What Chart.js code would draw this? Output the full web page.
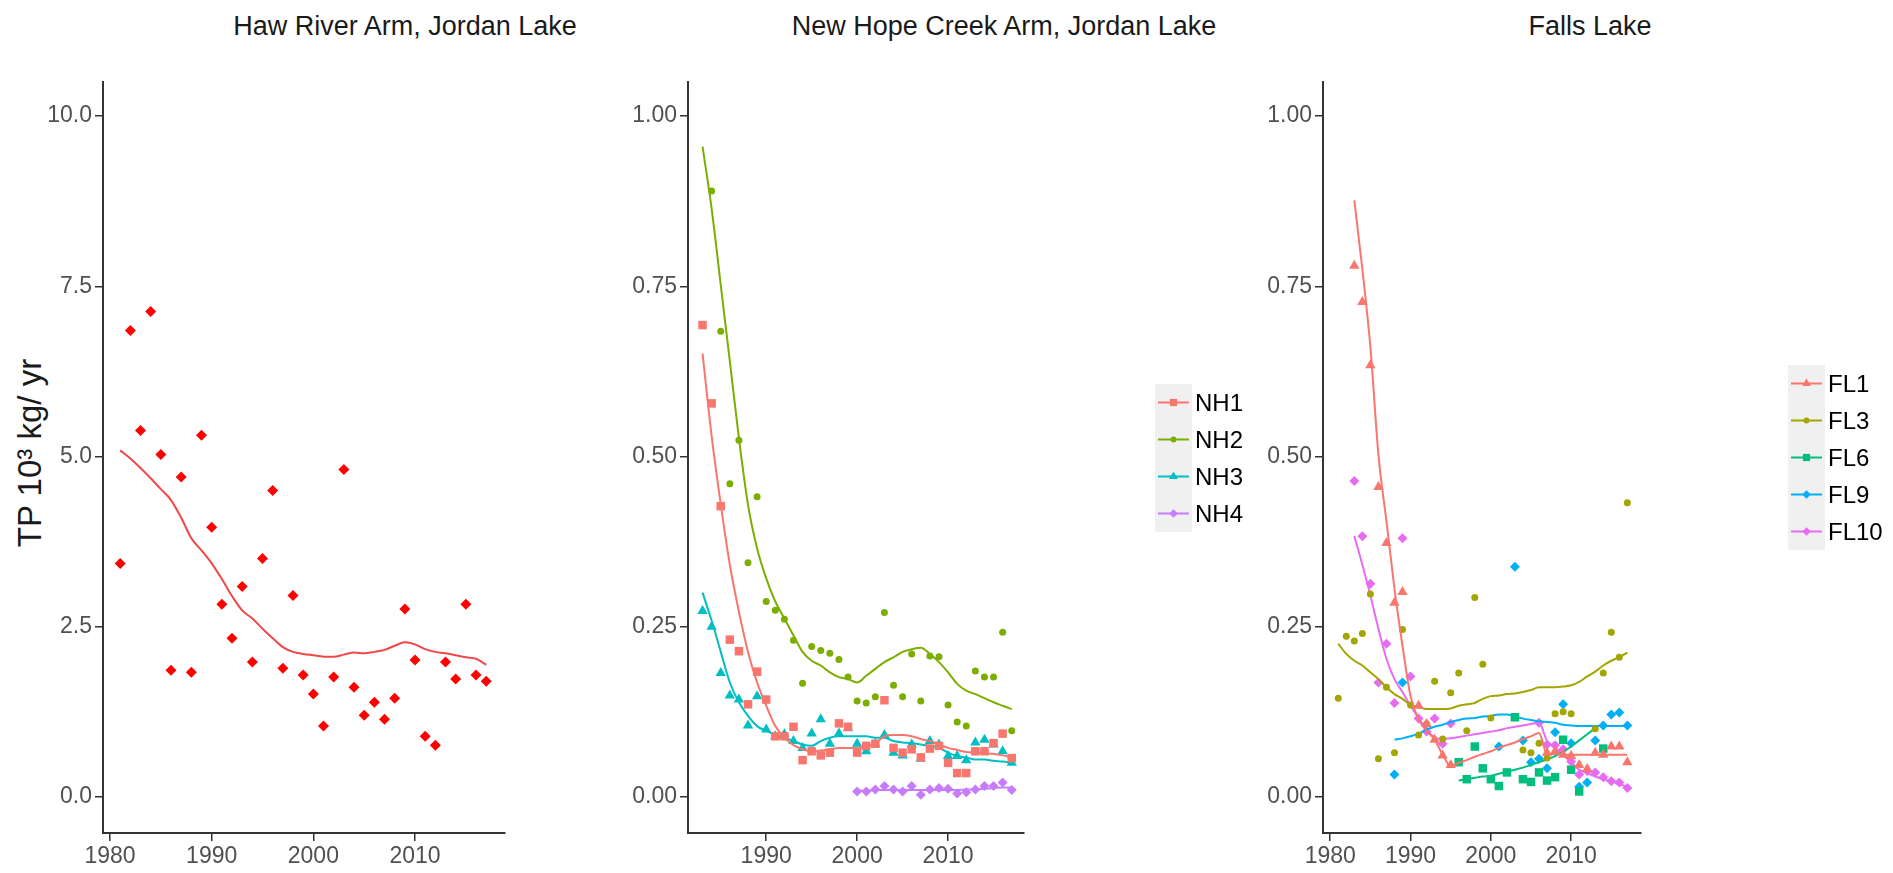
<!DOCTYPE html>
<html lang="en">
<head>
    <meta charset="UTF-8">
    <title>TP loads - Jordan Lake and Falls Lake</title>
    <script src="https://cdn.jsdelivr.net/npm/chart.js"></script>
    <style>
        body {
            margin: 0;
            background: #fff;
            font-family: "Liberation Sans", Arial, sans-serif;
        }
        #page {
            position: relative;
            width: 1893px;
            height: 873px;
            overflow: hidden;
        }
        canvas.panel {
            position: absolute;
            top: 0;
        }
        .ttl {
            position: absolute;
            top: 12px;
            font-size: 27px;
            line-height: 28px;
            color: #1a1a1a;
            white-space: nowrap;
            transform: translateX(-50%);
        }
        .ylab {
            position: absolute;
            left: 30px;
            top: 453px;
            font-size: 33px;
            line-height: 34px;
            color: #1a1a1a;
            white-space: nowrap;
            transform: translate(-50%, -50%) rotate(-90deg);
        }
        .legend {
            position: absolute;
        }
        .legend .row {
            display: flex;
            align-items: center;
            height: 37px;
        }
        .legend canvas {
            display: block;
        }
        .legend span {
            margin-left: 3px;
            color: #000;
        }
    </style>
</head>
<body>
<div id="page">
    <div class="ttl" style="left:405px">Haw River Arm, Jordan Lake</div>
    <div class="ttl" style="left:1004px">New Hope Creek Arm, Jordan Lake</div>
    <div class="ttl" style="left:1590px">Falls Lake</div>
    <div class="ylab">TP 10³ kg/ yr</div>

    <canvas id="haw" class="panel" width="520" height="873" style="left:0px"></canvas>
    <canvas id="nh" class="panel" width="480" height="873" style="left:560px"></canvas>
    <canvas id="fl" class="panel" width="460" height="873" style="left:1200px"></canvas>

    <div id="nhLegend" class="legend" style="left:1155px; top:384px"></div>
    <div id="flLegend" class="legend" style="left:1788px; top:365px"></div>
</div>

<script>
// ---- data ----
const hawYears = [1981,1982,1983,1984,1985,1986,1987,1988,1989,1990,1991,1992,1993,1994,1995,1996,1997,1998,1999,2000,
    2001,2002,2003,2004,2005,2006,2007,2008,2009,2010,2011,2012,2013,2014,2015,2016,2017];
const hawPts = [3.43,6.85,5.38,7.13,5.03,1.86,4.70,1.83,5.31,3.96,2.83,2.33,3.09,1.98,3.50,4.50,1.89,2.96,1.79,1.51,
    1.04,1.76,4.81,1.61,1.20,1.39,1.14,1.45,2.76,2.01,0.89,0.76,1.98,1.73,2.83,1.79,1.70];
const hawFit = [5.09,4.97,4.83,4.68,4.52,4.36,4.10,3.80,3.62,3.43,3.20,2.95,2.74,2.62,2.47,2.33,2.20,2.13,2.10,2.08,
    2.06,2.06,2.09,2.12,2.11,2.13,2.16,2.22,2.27,2.24,2.17,2.13,2.11,2.08,2.05,2.03,1.94];

const nhYears = [1983,1984,1985,1986,1987,1988,1989,1990,1991,1992,1993,1994,1995,1996,1997,1998,1999,2000,
    2001,2002,2003,2004,2005,2006,2007,2008,2009,2010,2011,2012,2013,2014,2015,2016,2017];
const nh1Pts = [0.693,0.578,0.427,0.231,0.214,0.136,0.184,0.143,0.089,0.089,0.103,0.054,0.067,0.061,0.065,0.108,0.103,0.065,
    0.075,0.078,0.142,0.072,0.065,0.070,0.058,0.071,0.075,0.050,0.035,0.035,0.067,0.067,0.079,0.093,0.057];
const nh1Fit = [0.651,0.530,0.430,0.341,0.272,0.213,0.168,0.134,0.104,0.087,0.076,0.070,0.067,0.068,0.070,0.072,0.072,0.072,
    0.074,0.079,0.089,0.091,0.091,0.089,0.085,0.082,0.077,0.072,0.069,0.066,0.065,0.064,0.063,0.061,0.058];
const nh2Pts = [null,0.890,0.684,0.460,0.524,0.344,0.441,0.287,0.274,0.261,0.230,0.167,0.221,0.215,0.211,0.202,0.176,0.141,
    0.138,0.147,0.271,0.164,0.147,0.210,0.141,0.207,0.206,0.135,0.110,0.104,0.185,0.176,0.176,0.242,0.097];
const nh2Fit = [0.955,0.864,0.752,0.640,0.527,0.429,0.365,0.321,0.287,0.262,0.237,0.213,0.200,0.193,0.183,0.176,0.173,0.168,
    0.178,0.188,0.198,0.205,0.213,0.217,0.219,0.210,0.198,0.183,0.166,0.156,0.151,0.145,0.139,0.134,0.129];
const nh3Pts = [0.273,0.250,0.182,0.149,0.143,0.105,0.148,0.099,0.089,0.092,0.082,0.072,0.093,0.114,0.078,0.093,0.101,0.078,
    0.067,0.078,0.091,0.065,0.061,0.077,0.056,0.082,0.077,0.060,0.060,0.054,0.080,0.084,0.077,0.067,0.050];
const nh3Fit = [0.300,0.259,0.213,0.168,0.139,0.119,0.104,0.097,0.091,0.087,0.082,0.077,0.075,0.082,0.087,0.089,0.089,0.089,
    0.089,0.087,0.087,0.082,0.080,0.079,0.077,0.075,0.072,0.065,0.060,0.058,0.055,0.055,0.053,0.052,0.050];
const nh4Years = [2000,2001,2002,2003,2004,2005,2006,2007,2008,2009,2010,2011,2012,2013,2014,2015,2016,2017];
const nh4Pts = [0.008,0.008,0.011,0.016,0.011,0.008,0.016,0.003,0.011,0.013,0.012,0.005,0.007,0.011,0.016,0.016,0.021,0.010];
const nh4Fit = [0.009,0.009,0.010,0.010,0.010,0.010,0.010,0.010,0.010,0.010,0.010,0.010,0.011,0.011,0.012,0.013,0.014,0.014];

const flYears = hawYears;
const fl1Pts = [null,null,0.780,0.727,0.634,0.455,0.373,0.285,0.301,null,0.134,0.107,0.084,0.061,0.047,
    null,null,null,null,null,null,null,null,null,null,null,
    0.065,0.067,0.062,0.060,0.047,0.041,0.065,0.062,0.074,0.074,0.051];
const fl1Fit = [null,null,0.876,0.775,0.661,0.503,0.405,0.306,0.222,0.148,0.114,0.097,0.084,0.062,0.045,
    0.050,0.054,0.059,0.063,0.067,0.072,0.076,0.080,0.085,0.089,0.094,
    0.063,0.063,0.062,0.062,0.062,0.062,0.062,0.062,0.062,0.062,0.062];
const fl3Pts = [0.145,0.236,0.229,0.240,0.298,0.056,0.161,0.065,0.246,0.135,0.091,0.107,0.170,0.085,0.153,0.182,0.097,0.293,0.195,0.116,
    null,null,null,0.069,0.065,0.079,0.057,0.122,0.125,0.122,null,null,0.100,0.182,0.242,0.205,0.432];
const fl3Fit = [0.225,0.210,0.200,0.193,0.183,0.173,0.161,0.151,0.144,0.135,0.132,0.129,0.129,0.129,0.130,0.134,0.136,0.138,0.144,0.148,
    0.149,0.151,0.152,0.154,0.157,0.161,0.161,0.161,0.162,0.164,0.169,0.177,0.184,0.193,0.200,0.205,0.212];
const fl6Pts = [null,null,null,null,null,null,null,null,null,null,null,null,null,null,null,
    0.051,0.026,0.074,0.042,0.026,0.016,0.036,0.117,0.026,0.022,0.036,0.024,0.029,0.084,0.040,0.008,null,null,0.071,null,null,null];
const fl6Fit = [null,null,null,null,null,null,null,null,null,null,null,null,null,null,null,
    0.024,0.026,0.028,0.030,0.031,0.034,0.037,0.040,0.043,0.047,0.051,0.055,0.060,0.066,0.074,0.083,0.092,0.101,null,null,null,null];
const fl9Pts = [null,null,null,null,null,null,null,0.033,0.168,null,null,null,null,null,null,null,null,null,null,null,
    0.074,null,0.338,0.083,0.051,0.056,0.042,0.095,0.136,0.079,0.015,0.021,0.083,0.105,0.121,0.124,0.105];
const fl9Fit = [null,null,null,null,null,null,null,0.084,0.086,0.089,0.093,0.099,0.103,0.106,0.110,0.113,0.115,0.116,0.118,0.119,
    0.121,0.121,0.118,0.115,0.113,0.111,0.110,0.109,0.106,0.105,0.104,0.104,0.104,0.104,0.104,0.104,0.104];
const fl10Pts = [null,null,0.464,0.383,0.313,0.168,0.225,0.138,0.380,0.177,0.115,0.096,0.115,0.078,0.108,
    null,null,null,null,null,null,null,null,null,null,
    0.109,0.077,0.076,0.070,0.052,0.033,0.038,0.036,0.029,0.023,0.021,0.013];
const fl10Fit = [null,null,0.383,0.341,0.296,0.247,0.203,0.173,0.154,0.134,0.116,0.099,0.087,0.085,0.086,
    0.088,0.090,0.092,0.094,0.096,0.098,0.101,0.103,0.105,0.107,
    0.109,0.082,0.072,0.062,0.051,0.040,0.035,0.030,0.026,0.023,0.019,0.015];

const hawTicksY = [0, 2.5, 5, 7.5, 10];
const propTicksY = [0, 0.25, 0.5, 0.75, 1];
const hawTicksX = [1980, 1990, 2000, 2010];
const nhTicksX = [1990, 2000, 2010];
const flTicksX = [1980, 1990, 2000, 2010];

// ---- fonts: the figure uses a condensed face for axis text ----
function hasFont(name) {
    const c = document.createElement('canvas').getContext('2d');
    c.font = '40px monospace';
    const a = c.measureText('1990 NH FL abc').width;
    c.font = '40px "' + name + '", monospace';
    return c.measureText('1990 NH FL abc').width !== a;
}
const narrow = ['Liberation Sans Narrow', 'Arial Narrow'].find(hasFont);
const tickFont = narrow ? { family: narrow, size: 25 } : { family: 'Liberation Sans', size: 23 };
const legendFont = narrow ? '26px "' + narrow + '"' : '24px "Liberation Sans"';

function pairs(xs, ys) {
    return xs.map((x, i) => ({ x: x, y: ys[i] }));
}

function pointSet(label, xs, ys, color, style, r) {
    return {
        label: label,
        data: pairs(xs, ys).filter(p => p.y !== null),
        backgroundColor: color,
        borderWidth: 0,
        pointStyle: style,
        pointRadius: r,
        showLine: false
    };
}

function fitSet(label, xs, ys, color) {
    return {
        label: label,
        data: pairs(xs, ys).filter(p => p.y !== null),
        borderColor: color,
        borderWidth: 2,
        pointRadius: 0,
        showLine: true,
        cubicInterpolationMode: 'monotone'
    };
}

function axes(xMin, xMax, xTicks, yMin, yMax, yTicks, yDigits, yWidth) {
    const common = {
        grid: { drawOnChartArea: false, tickLength: 8, color: '#333', lineWidth: 1.5 },
        border: { color: '#333', width: 2 }
    };
    return {
        x: Object.assign({
            type: 'linear', min: xMin, max: xMax,
            afterBuildTicks: s => { s.ticks = xTicks.map(v => ({ value: v })); },
            afterFit: s => { s.height = 40; },
            ticks: { font: tickFont, color: '#505050', padding: 2, maxRotation: 0, callback: v => String(v) }
        }, common),
        y: Object.assign({
            type: 'linear', min: yMin, max: yMax,
            afterBuildTicks: s => { s.ticks = yTicks.map(v => ({ value: v })); },
            afterFit: s => { s.width = yWidth; },
            ticks: { font: tickFont, color: '#505050', padding: 3, callback: v => v.toFixed(yDigits) }
        }, common)
    };
}

function panel(id, datasets, scales, padRight) {
    new Chart(document.getElementById(id), {
        type: 'scatter',
        data: { datasets: datasets },
        options: {
            responsive: false,
            animation: false,
            layout: { padding: { top: 82, right: padRight, bottom: 0, left: 0 } },
            plugins: { legend: { display: false }, tooltip: { enabled: false } },
            scales: scales
        }
    });
}

// Haw River Arm
panel('haw', [
    pointSet('Haw', hawYears, hawPts, '#ff0000', 'rectRot', 5.5),
    fitSet('Haw fit', hawYears, hawFit, '#f04848')
], axes(1979.31, 2018.85, hawTicksX, -0.53, 10.5, hawTicksY, 1, 103), 15);

// New Hope Creek Arm
const nhSeries = [
    { name: 'NH1', xs: nhYears, pts: nh1Pts, fit: nh1Fit, color: '#F8766D', style: 'rect', r: 6 },
    { name: 'NH2', xs: nhYears, pts: nh2Pts, fit: nh2Fit, color: '#7CAE00', style: 'circle', r: 3.5 },
    { name: 'NH3', xs: nhYears, pts: nh3Pts, fit: nh3Fit, color: '#00BFC4', style: 'triangle', r: 6 },
    { name: 'NH4', xs: nh4Years, pts: nh4Pts, fit: nh4Fit, color: '#C77CFF', style: 'rectRot', r: 5 }
];
panel('nh', nhSeries.flatMap(s => [
    fitSet(s.name + ' fit', s.xs, s.fit, s.color),
    pointSet(s.name, s.xs, s.pts, s.color, s.style, s.r)
]), axes(1981.4, 2018.35, nhTicksX, -0.053, 1.05, propTicksY, 2, 128), 16);

// Falls Lake
const flSeries = [
    { name: 'FL1', xs: flYears, pts: fl1Pts, fit: fl1Fit, color: '#F8766D', style: 'triangle', r: 6 },
    { name: 'FL3', xs: flYears, pts: fl3Pts, fit: fl3Fit, color: '#A3A500', style: 'circle', r: 3.5 },
    { name: 'FL6', xs: flYears, pts: fl6Pts, fit: fl6Fit, color: '#00BF7D', style: 'rect', r: 6 },
    { name: 'FL9', xs: flYears, pts: fl9Pts, fit: fl9Fit, color: '#00B0F6', style: 'rectRot', r: 5 },
    { name: 'FL10', xs: flYears, pts: fl10Pts, fit: fl10Fit, color: '#E76BF3', style: 'rectRot', r: 5 }
];
panel('fl', flSeries.flatMap(s => [
    fitSet(s.name + ' fit', s.xs, s.fit, s.color),
    pointSet(s.name, s.xs, s.pts, s.color, s.style, s.r)
]), axes(1979.1, 2018.7, flTicksX, -0.053, 1.05, propTicksY, 2, 123), 19);

// legends: grey key with line + marker, like ggplot
function legend(boxId, series) {
    const box = document.getElementById(boxId);
    series.forEach(s => {
        const row = document.createElement('div');
        row.className = 'row';
        const key = document.createElement('canvas');
        key.width = 37;
        key.height = 37;
        const ctx = key.getContext('2d');
        ctx.fillStyle = '#f0f0f0';
        ctx.fillRect(0, 0, key.width, key.height);
        ctx.strokeStyle = s.color;
        ctx.lineWidth = 2;
        ctx.beginPath();
        ctx.moveTo(3, 18.5);
        ctx.lineTo(34, 18.5);
        ctx.stroke();
        ctx.fillStyle = s.color;
        Chart.helpers.drawPoint(ctx, { pointStyle: s.style, radius: s.r * 0.85, rotation: 0, borderWidth: 0 }, 18.5, 18.5);
        const txt = document.createElement('span');
        txt.textContent = s.name;
        txt.style.font = legendFont;
        row.appendChild(key);
        row.appendChild(txt);
        box.appendChild(row);
    });
}
legend('nhLegend', nhSeries);
legend('flLegend', flSeries);
</script>
</body>
</html>
